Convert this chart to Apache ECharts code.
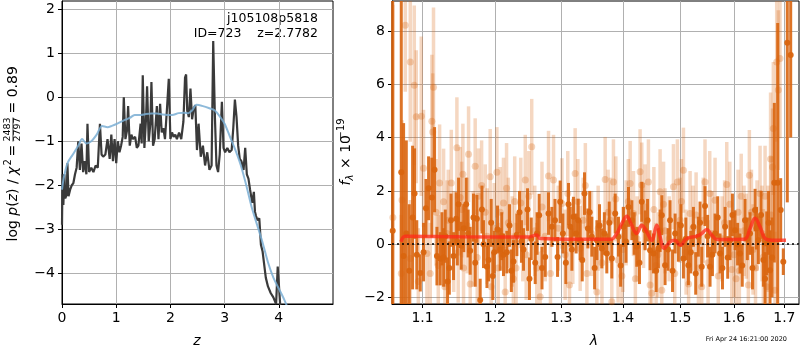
<!DOCTYPE html>
<html>
<head>
<meta charset="utf-8">
<script src="https://cdn.jsdelivr.net/npm/echarts@6/dist/echarts.min.js"></script>
<style>
  html, body { margin: 0; padding: 0; background: #fff; }
  #chart { width: 800px; height: 350px; }
</style>
</head>
<body>
<div id="chart"></div>
<script>
// left panel: log p(z)
const zFit = [0.0, 0.01, 0.025, 0.045, 0.06, 0.09, 0.1, 0.12, 0.15, 0.18, 0.21, 0.24, 0.27, 0.3, 0.33, 0.36, 0.39, 0.42, 0.45, 0.47, 0.5, 0.54, 0.58, 0.62, 0.66, 0.7, 0.73, 0.76, 0.8, 0.84, 0.88, 0.91, 0.94, 0.97, 1.0, 1.03, 1.06, 1.09, 1.12, 1.14, 1.17, 1.2, 1.22, 1.25, 1.28, 1.31, 1.35, 1.38, 1.41, 1.45, 1.47, 1.49, 1.52, 1.55, 1.57, 1.6, 1.63, 1.65, 1.68, 1.71, 1.75, 1.78, 1.81, 1.84, 1.87, 1.9, 1.94, 1.97, 2.0, 2.03, 2.06, 2.09, 2.12, 2.16, 2.2, 2.24, 2.27, 2.29, 2.31, 2.34, 2.37, 2.4, 2.43, 2.46, 2.49, 2.52, 2.56, 2.6, 2.64, 2.68, 2.72, 2.76, 2.79, 2.82, 2.85, 2.88, 2.91, 2.95, 2.98, 3.01, 3.05, 3.09, 3.13, 3.16, 3.19, 3.22, 3.25, 3.28, 3.31, 3.35, 3.38, 3.41, 3.44, 3.47, 3.51, 3.54, 3.56, 3.58, 3.61, 3.64, 3.67, 3.7, 3.73, 3.76, 3.8, 3.85, 3.9, 3.95, 3.98, 4.01, 4.03];
const logpFit = [-2.9, -1.75, -2.45, -1.75, -2.3, -2.2, -1.5, -2.25, -2.1, -2.0, -1.95, -1.75, -1.6, -1.0, -1.65, -1.05, -1.7, -1.45, -1.75, -0.6, -1.7, -1.6, -1.7, -1.55, -1.6, -0.6, -1.3, -1.35, -1.3, -0.95, -1.4, -0.85, -1.45, -0.95, -1.5, -1.0, -1.25, -1.1, -0.9, 0.0, -0.95, -0.75, -0.2, -1.1, -0.85, -0.95, -0.9, -1.15, -1.1, -0.6, -1.05, 0.5, -1.15, -0.5, 0.25, -1.0, -0.6, 0.35, -1.1, -0.95, -0.2, -0.95, -0.15, -0.8, -0.7, -0.95, -0.2, 0.42, -0.95, -0.8, -0.9, -0.85, -0.95, -0.8, -0.95, -0.55, 0.45, 0.52, -0.3, -0.45, 0.2, -0.5, -0.25, -0.18, -1.2, -0.6, -1.35, -1.1, -1.55, -1.25, -1.65, -1.55, 1.28, -0.4, -1.55, -1.7, -1.3, -0.1, -1.15, -1.25, -1.15, -1.25, -1.2, -0.7, -0.05, -0.45, -1.1, -1.4, -1.45, -1.65, -1.15, -1.75, -1.85, -2.1, -2.4, -2.15, -2.6, -2.7, -2.8, -2.75, -3.35, -3.5, -3.8, -4.1, -4.3, -4.45, -4.55, -4.7, -3.85, -3.85, -4.8];
const zPrior = [0.0, 0.03, 0.1, 0.2, 0.3, 0.37, 0.45, 0.54, 0.64, 0.74, 0.84, 0.92, 1.02, 1.15, 1.25, 1.34, 1.45, 1.55, 1.65, 1.75, 1.85, 1.95, 2.03, 2.15, 2.25, 2.33, 2.4, 2.48, 2.6, 2.72, 2.82, 2.92, 3.0, 3.1, 3.2, 3.3, 3.4, 3.5, 3.6, 3.7, 3.8, 3.9, 4.0, 4.1, 4.2];
const logpPrior = [-2.1, -1.85, -1.5, -1.3, -1.1, -0.95, -1.05, -1.0, -0.85, -0.65, -0.68, -0.65, -0.6, -0.52, -0.47, -0.4, -0.4, -0.38, -0.37, -0.37, -0.39, -0.4, -0.4, -0.36, -0.35, -0.36, -0.3, -0.17, -0.2, -0.25, -0.3, -0.45, -0.6, -0.9, -1.2, -1.55, -2.0, -2.5, -2.9, -3.3, -3.75, -4.1, -4.35, -4.6, -4.9];
const zTicks = [0, 1, 2, 3, 4];
const logpTicks = [-4, -3, -2, -1, 0, 1, 2];

// right panel: spectrum (dark = binned points, light = raw points)
const darkLam = [1.0612, 1.0722, 1.0752, 1.0787, 1.0826, 1.0869, 1.0895, 1.0924, 1.0970, 1.1013, 1.1045, 1.1080, 1.1124, 1.1160, 1.1192, 1.1237, 1.1282, 1.1305, 1.1336, 1.1383, 1.1418, 1.1455, 1.1487, 1.1524, 1.1559, 1.1593, 1.1649, 1.1695, 1.1743, 1.1790, 1.1837, 1.1886, 1.1909, 1.1947, 1.1990, 1.2038, 1.2077, 1.2125, 1.2174, 1.2213, 1.2272, 1.2322, 1.2361, 1.2421, 1.2481, 1.2537, 1.2597, 1.2657, 1.2749, 1.2800, 1.2852, 1.2940, 1.2981, 1.3023, 1.3112, 1.3138, 1.3190, 1.3233, 1.3297, 1.3366, 1.3421, 1.3485, 1.3567, 1.3648, 1.3730, 1.3813, 1.3869, 1.3924, 1.4008, 1.4093, 1.4150, 1.4234, 1.4320, 1.4377, 1.4464, 1.4522, 1.4609, 1.4669, 1.4727, 1.4816, 1.4906, 1.4965, 1.5056, 1.5146, 1.5238, 1.5329, 1.5391, 1.5452, 1.5546, 1.5640, 1.5734, 1.5830, 1.5925, 1.6021, 1.6117, 1.6214, 1.6312, 1.6411, 1.6477, 1.6576, 1.6643, 1.6709, 1.6796, 1.6864, 1.6925, 1.6978, 1.7060, 1.7130,
  1.1260, 1.1360, 1.1470, 1.1620, 1.1720, 1.1815, 1.1970, 1.2100, 1.2240, 1.2390, 1.2510, 1.2625, 1.2700, 1.2900, 1.3070, 1.3165, 1.3265, 1.3330, 1.3450, 1.3530, 1.3610, 1.3690, 1.3770, 1.3960, 1.4050, 1.4190, 1.4280, 1.4420, 1.4570, 1.4640, 1.4780, 1.4860, 1.5010, 1.5100, 1.5190, 1.5280, 1.5360, 1.5500, 1.5590, 1.5690, 1.5780, 1.5880, 1.5970, 1.6070, 1.6160, 1.6260, 1.6360, 1.6440, 1.6530, 1.6610, 1.6680, 1.6750];
const darkFlux = [0.5, 2.7, -0.45, 0.4, -1.0, 1.0, 1.9, -0.4, -1.08, -0.3, 1.35, 2.1, 1.75, 2.8, -0.45, -0.55, -0.5, 0.3, -1.4, 0.9, -0.45, 0.95, 1.5, -0.06, 0.6, 1.5, -0.25, 1.0, 0.95, -2.1, 0.0, -0.85, -0.6, 0.8, -0.3, 0.55, -0.2, -0.4, -0.3, 0.7, -0.65, 0.35, 1.2, -0.2, 1.3, 0.2, -0.7, 1.09, -0.48, 1.15, 0.65, -0.48, 1.59, 0.4, 1.5, 0.65, 1.03, 0.4, 0.15, 1.9, 0.59, 0.28, 0.15, -0.16, -0.35, -0.54, 1.15, 0.28, 0.65, 1.4, 0.9, -0.1, 1.59, 0.52, -0.23, -0.35, -0.16, 1.09, -0.79, 0.9, 0.4, 0.09, -0.54, -0.79, 0.65, 0.28, -0.85, 1.43, -0.85, 0.4, -0.35, 0.65, 0.15, 0.52, -0.35, 0.9, 0.4, 1.28, 0.15, -0.6, 0.03, -0.98, 2.31, 2.31, 1.28, -0.66, 7.57, 7.11,
  0.2, -0.9, 0.1, 0.4, -0.7, 1.3, -1.2, 0.3, -1.0, 0.1, -1.3, 0.4, -0.9, 0.9, -0.7, -0.2, 0.9, -0.6, 1.2, -0.9, 0.7, 0.4, 0.8, -0.8, 0.1, 0.4, -0.7, 0.9, -1.0, 0.5, -0.2, -1.0, 0.7, 0.2, -0.3, -1.1, 0.8, 0.3, -0.4, 1.0, -0.9, -0.5, 1.1, 0.0, -0.8, 0.2, -0.9, 0.6, 1.1, -1.3, 0.8, -0.5];
const darkErr = [20, 15, 5, 3.5, 2.5, 2.7, 1.7, 1.3, 0.7, 1.1, 1.1, 1.2, 1.5, 1.6, 1.1, 1.0, 1.1, 1.0, 0.9, 1.0, 0.9, 1.0, 1.0, 0.9, 0.9, 1.0, 0.9, 0.9, 0.9, 0.8, 0.9, 0.8, 0.8, 0.9, 0.8, 0.9, 0.8, 0.8, 0.8, 0.8, 0.8, 0.8, 0.8, 0.8, 0.8, 0.8, 0.8, 0.8, 0.75, 0.8, 0.75, 0.75, 0.8, 0.75, 0.8, 0.75, 0.75, 0.75, 0.75, 0.8, 0.75, 0.75, 0.75, 0.75, 0.75, 0.75, 0.75, 0.75, 0.75, 0.75, 0.75, 0.75, 0.75, 0.75, 0.75, 0.75, 0.75, 0.75, 0.75, 0.75, 0.75, 0.75, 0.75, 0.75, 0.75, 0.75, 0.75, 0.75, 0.75, 0.75, 0.75, 0.75, 0.75, 0.75, 0.75, 0.8, 0.8, 0.8, 0.9, 1.0, 1.2, 1.5, 3.0, 6.0, 1.2, 0.5, 6.0, 3.1,
  1.0, 1.0, 0.9, 0.9, 0.9, 0.9, 0.9, 0.9, 0.8, 0.8, 0.8, 0.8, 0.8, 0.8, 0.8, 0.8, 0.8, 0.8, 0.8, 0.8, 0.8, 0.8, 0.8, 0.8, 0.8, 0.8, 0.8, 0.8, 0.8, 0.8, 0.8, 0.8, 0.8, 0.8, 0.8, 0.8, 0.8, 0.8, 0.8, 0.8, 0.8, 0.8, 0.8, 0.8, 0.8, 0.8, 0.8, 0.8, 0.9, 1.0, 1.2, 1.5];
const lightLam = [1.0614, 1.0722, 1.0731, 1.0774, 1.0839, 1.0839, 1.0891, 1.0917, 1.0944, 1.0983, 1.1013, 1.1058, 1.1102, 1.1124, 1.1135, 1.1146, 1.1210, 1.1228, 1.1282, 1.1328, 1.1346, 1.1387, 1.1464, 1.1482, 1.1510, 1.1547, 1.1556, 1.1607, 1.1626, 1.1649, 1.1719, 1.1748, 1.1766, 1.1862, 1.1890, 1.1933, 1.1947, 1.2029, 1.2048, 1.2077, 1.2125, 1.2150, 1.2196, 1.2253, 1.2290, 1.2310, 1.2380, 1.2447, 1.2461, 1.2544, 1.2590, 1.2672, 1.2749, 1.2800, 1.2877, 1.3008, 1.3059, 1.3127, 1.3217, 1.3297, 1.3345, 1.3405, 1.3567, 1.3588, 1.3703, 1.3752, 1.3813, 1.3840, 1.3918, 1.3981, 1.4053, 1.4121, 1.4178, 1.4239, 1.4291, 1.4320, 1.4377, 1.4435, 1.4464, 1.4493, 1.4569, 1.4639, 1.4669, 1.4727, 1.4876, 1.4947, 1.4996, 1.5056, 1.5104, 1.5177, 1.5287, 1.5391, 1.5452, 1.5509, 1.5584, 1.5640, 1.5772, 1.5862, 1.5957, 1.6002, 1.6079, 1.6104, 1.6195, 1.6279, 1.6299, 1.6371, 1.6450, 1.6510, 1.6576, 1.6610, 1.6669, 1.6760, 1.6776, 1.6810, 1.6844, 1.6877, 1.6911,
  1.1180, 1.1300, 1.1420, 1.1530, 1.1690, 1.1810, 1.1990, 1.2170, 1.2270, 1.2410, 1.2500, 1.2620, 1.2700, 1.2830, 1.2950, 1.3100, 1.3180, 1.3260, 1.3380, 1.3480, 1.3650, 1.3790, 1.3880, 1.4000, 1.4090, 1.4210, 1.4350, 1.4530, 1.4600, 1.4700, 1.4800, 1.4900, 1.5020, 1.5150, 1.5230, 1.5330, 1.5420, 1.5540, 1.5700, 1.5820, 1.5920, 1.6040, 1.6140, 1.6240, 1.6340, 1.6420, 1.6550, 1.6640, 1.6720, 1.6730];
const lightFlux = [1.0, -1.1, 1.66, 8.23, 6.85, -0.54, 5.97, 4.79, -1.4, 4.81, 2.85, -0.35, -1.1, 4.62, 4.22, 5.9, -0.8, 2.3, 1.59, 0.4, 0.9, 2.3, 3.62, -0.3, 1.75, 2.63, -0.9, 0.7, 3.38, -1.5, 2.93, -0.5, 1.8, 1.2, 0.3, 2.53, -1.6, 2.7, -0.9, 1.2, 1.55, -1.8, 0.8, 0.1, 1.6, -0.9, 1.55, 2.41, -0.4, 3.66, 0.5, -1.98, 0.3, 2.56, 2.41, 1.53, -0.4, -1.54, 2.66, -0.16, 0.9, -1.1, -1.8, 0.6, 2.43, 1.2, -2.17, 2.34, -0.6, -1.2, 0.8, 2.28, 1.15, 0.2, 2.72, 2.22, 1.4, 2.34, -1.54, -1.85, -0.8, 1.97, -1.73, 0.5, 2.16, 2.34, 0.9, 2.78, -0.3, 1.15, 1.1, -1.6, 2.34, -0.7, 0.4, 1.65, 0.2, 2.24, -0.95, -0.4, 1.2, -1.0, 0.5, -1.54, 2.59, -0.2, 0.7, 1.9, -0.48, 1.8, 0.2, 2.9, 4.35, -1.73, 6.85, 5.79, 6.98,
  1.2, -1.6, 0.1, 1.3, 0.2, 2.2, 0.6, 2.1, -1.3, 0.3, 1.8, -0.9, 1.4, -1.1, 0.6, 1.9, 0.1, 1.6, 2.2, 0.4, -0.7, 0.9, 1.7, -0.2, 1.6, -1.3, 0.7, 1.3, -0.4, 1.5, 0.2, -1.1, 1.6, -1.5, 0.6, -0.9, 0.9, 1.9, -1.2, 0.8, 1.5, -1.3, 1.8, 0.3, 1.2, -0.9, 0.4, -1.6, 3.2, 1.1];
const lightErr = [8, 2.2, 3, 2.5, 3, 2.2, 3, 2.5, 2.0, 3, 2.2, 2.0, 1.9, 2.5, 2.2, 3, 1.9, 2.2, 2.0, 2.0, 1.9, 2.0, 1.9, 1.9, 1.9, 1.9, 1.8, 1.8, 1.8, 1.8, 1.8, 1.8, 1.8, 1.8, 1.8, 1.8, 1.7, 1.7, 1.7, 1.7, 1.7, 1.7, 1.7, 1.7, 1.7, 1.7, 1.7, 1.7, 1.7, 1.8, 1.7, 1.7, 1.7, 1.7, 1.7, 1.7, 1.7, 1.7, 1.7, 1.6, 1.6, 1.6, 1.6, 1.6, 1.6, 1.6, 1.6, 1.6, 1.6, 1.6, 1.6, 1.6, 1.6, 1.6, 1.6, 1.6, 1.6, 1.6, 1.6, 1.6, 1.6, 1.6, 1.6, 1.6, 1.6, 1.6, 1.6, 1.6, 1.6, 1.6, 1.6, 1.6, 1.6, 1.6, 1.6, 1.6, 1.6, 1.6, 1.6, 1.6, 1.6, 1.6, 1.7, 1.7, 1.7, 1.7, 1.7, 1.8, 1.8, 1.9, 2.0, 2.2, 2.5, 2.2, 3, 3, 3,
  2.0, 1.9, 1.9, 1.8, 1.8, 1.7, 1.7, 1.7, 1.7, 1.7, 1.7, 1.7, 1.7, 1.7, 1.6, 1.6, 1.6, 1.6, 1.6, 1.6, 1.6, 1.6, 1.6, 1.6, 1.6, 1.6, 1.6, 1.6, 1.6, 1.6, 1.6, 1.6, 1.6, 1.6, 1.6, 1.6, 1.6, 1.6, 1.6, 1.6, 1.6, 1.6, 1.6, 1.6, 1.6, 1.7, 1.8, 2.0, 2.5, 2.2];
const modelLam = [1.0718, 1.0774, 1.15, 1.25, 1.2621, 1.2672, 1.32, 1.38, 1.3896, 1.3981, 1.4065, 1.4133, 1.4234, 1.432, 1.4406, 1.4493, 1.4581, 1.4639, 1.471, 1.4816, 1.4906, 1.4996, 1.5117, 1.5299, 1.5391, 1.5484, 1.5578, 1.5672, 1.62, 1.6312, 1.6411, 1.651, 1.661, 1.6743, 1.7034];
const modelFlux = [0.09, 0.3, 0.28, 0.27, 0.34, 0.21, 0.18, 0.18, 0.4, 0.78, 1.05, 0.78, 0.4, 0.71, 0.46, 0.15, 0.71, 0.28, -0.16, 0.09, 0.15, -0.04, 0.21, 0.3, 0.4, 0.55, 0.34, 0.17, 0.18, 0.59, 0.97, 0.65, 0.21, 0.15, 0.15];
const lamTicks = [1.1, 1.2, 1.3, 1.4, 1.5, 1.6, 1.7];
const fluxTicks = [-2, 0, 2, 4, 6, 8];

const FONT = 'DejaVu Sans';
const ORANGE = '#d9650f';
const zip = (a, b, c) => a.map((v, i) => c ? [v, b[i], c[i]] : [v, b[i]]);
const minus = v => String(v).replace('-', '\u2212');

function axisStyle(ticks) {
  return {
    axisLine: { show: true, onZero: false, lineStyle: { color: '#000', width: 1 } },
    axisTick: { show: true, length: 4, customValues: ticks, lineStyle: { color: '#000', width: 1 } },
    axisLabel: { customValues: ticks, fontSize: 14, fontFamily: FONT, color: '#000', margin: 7, formatter: minus },
    splitLine: { show: true, lineStyle: { color: '#b0b0b0', width: 1 } }
  };
}

// vertical error bar, cut at the plot box
function errBars(stroke, width) {
  return function (params, api) {
    const cs = params.coordSys;
    const x = api.value(0), f = api.value(1), e = api.value(2);
    const p1 = api.coord([x, f + e]);
    const p2 = api.coord([x, f - e]);
    const top = Math.max(p1[1], cs.y);
    const bot = Math.min(p2[1], cs.y + cs.height);
    if (p1[0] < cs.x || p1[0] > cs.x + cs.width || top >= bot) return null;
    return {
      type: 'line',
      shape: { x1: p1[0], y1: top, x2: p1[0], y2: bot },
      style: { stroke: stroke, lineWidth: width }
    };
  };
}

const chart = echarts.init(document.getElementById('chart'), null, { renderer: 'canvas' });

const it = { fontStyle: 'italic', fontFamily: FONT, fontSize: 14 };

chart.setOption({
  animation: false,
  backgroundColor: '#fff',
  grid: [
    { left: 62, top: 1, width: 271, height: 303, show: true, borderColor: '#000', borderWidth: 1, backgroundColor: 'transparent' },
    { left: 392, top: 1, width: 407, height: 303, show: true, borderColor: '#000', borderWidth: 1, backgroundColor: 'transparent' }
  ],
  xAxis: [
    Object.assign({ gridIndex: 0, type: 'value', min: 0, max: 5 }, axisStyle(zTicks)),
    Object.assign({ gridIndex: 1, type: 'log', logBase: 10, min: 1.0603, max: 1.7302 }, axisStyle(lamTicks))
  ],
  yAxis: [
    Object.assign({ gridIndex: 0, type: 'value', min: -4.7, max: 2.19 }, axisStyle(logpTicks)),
    Object.assign({ gridIndex: 1, type: 'value', min: -2.25, max: 9.14 }, axisStyle(fluxTicks))
  ],
  series: [
    {
      type: 'line', xAxisIndex: 0, yAxisIndex: 0, data: zip(zFit, logpFit),
      showSymbol: false, lineStyle: { color: '#3a3a3a', width: 2.2 }, z: 3
    },
    {
      type: 'line', xAxisIndex: 0, yAxisIndex: 0, data: zip(zPrior, logpPrior),
      showSymbol: false, smooth: 0.3, lineStyle: { color: '#7aaed3', width: 2, opacity: 0.85 }, z: 4
    },
    {
      type: 'custom', xAxisIndex: 1, yAxisIndex: 1, data: zip(lightLam, lightFlux, lightErr),
      encode: { x: 0, y: 1 }, renderItem: errBars('rgba(217,101,15,0.26)', 3.5), z: 2
    },
    {
      type: 'scatter', xAxisIndex: 1, yAxisIndex: 1, data: zip(lightLam, lightFlux),
      symbolSize: 7, itemStyle: { color: ORANGE, opacity: 0.28 }, z: 2
    },
    {
      type: 'custom', xAxisIndex: 1, yAxisIndex: 1, data: zip(darkLam, darkFlux, darkErr),
      encode: { x: 0, y: 1 }, renderItem: errBars('rgba(217,101,15,0.9)', 3), z: 3
    },
    {
      type: 'scatter', xAxisIndex: 1, yAxisIndex: 1, data: zip(darkLam, darkFlux),
      symbolSize: 6, itemStyle: { color: ORANGE, opacity: 0.95 }, z: 3
    },
    {
      type: 'line', xAxisIndex: 1, yAxisIndex: 1, data: zip(modelLam, modelFlux),
      showSymbol: false, smooth: 0.4, lineStyle: { color: '#ff2a1a', width: 3.5, opacity: 0.75 }, z: 5,
      markLine: {
        silent: true, symbol: 'none', label: { show: false },
        lineStyle: { color: '#000', type: [2, 3], width: 1.5 },
        data: [{ yAxis: 0 }]
      }
    }
  ],
  graphic: [
    { type: 'text', right: 482, top: 12, style: { text: 'j105108p5818', font: '12.5px "DejaVu Sans"', fill: '#000' } },
    { type: 'text', right: 482, top: 27, style: { text: 'ID=723    z=2.7782', font: '12.5px "DejaVu Sans"', fill: '#000' } },
    { type: 'text', x: 197, y: 341, style: { text: 'z', font: 'italic 14px "DejaVu Sans"', fill: '#000', align: 'center', verticalAlign: 'middle' } },
    { type: 'text', x: 594, y: 341, style: { text: 'λ', font: 'italic 14px "DejaVu Sans"', fill: '#000', align: 'center', verticalAlign: 'middle' } },
    { type: 'text', x: 787, y: 339, style: { text: 'Fri Apr 24 16:21:00 2020', font: '6.5px "DejaVu Sans"', fill: '#000', align: 'right', verticalAlign: 'middle' } },
    {
      type: 'group', x: 13, y: 241.5, rotation: Math.PI / 2,
      children: [
        { type: 'text', x: 0, y: 0, style: { text: 'log {i|p}({i|z}) / {i|χ}', rich: { i: it }, font: '14px "DejaVu Sans"', fill: '#000', verticalAlign: 'middle' } },
        { type: 'text', x: 76, y: -5, style: { text: '2', font: '10px "DejaVu Sans"', fill: '#000', verticalAlign: 'middle' } },
        { type: 'text', x: 85, y: 0, style: { text: '=', font: '14px "DejaVu Sans"', fill: '#000', verticalAlign: 'middle' } },
        { type: 'text', x: 112, y: -5, style: { text: '2483', font: '9.5px "DejaVu Sans"', fill: '#000', align: 'center', verticalAlign: 'middle' } },
        { type: 'line', shape: { x1: 100, y1: 0, x2: 124, y2: 0 }, style: { stroke: '#000', lineWidth: 0.8 } },
        { type: 'text', x: 112, y: 5, style: { text: '2797', font: '9.5px "DejaVu Sans"', fill: '#000', align: 'center', verticalAlign: 'middle' } },
        { type: 'text', x: 128, y: 0, style: { text: '= 0.89', font: '14px "DejaVu Sans"', fill: '#000', verticalAlign: 'middle' } }
      ]
    },
    {
      type: 'group', x: 346, y: 185.5, rotation: Math.PI / 2,
      children: [
        { type: 'text', x: 0, y: 0, style: { text: 'f', font: 'italic 14px "DejaVu Sans"', fill: '#000', verticalAlign: 'middle' } },
        { type: 'text', x: 5, y: 4, style: { text: 'λ', font: 'italic 10px "DejaVu Sans"', fill: '#000', verticalAlign: 'middle' } },
        { type: 'text', x: 12, y: 0, style: { text: ' × 10', font: '14px "DejaVu Sans"', fill: '#000', verticalAlign: 'middle' } },
        { type: 'text', x: 46, y: -5, style: { text: '\u221219', font: '10px "DejaVu Sans"', fill: '#000', verticalAlign: 'middle' } }
      ]
    }
  ]
});
</script>
</body>
</html>
